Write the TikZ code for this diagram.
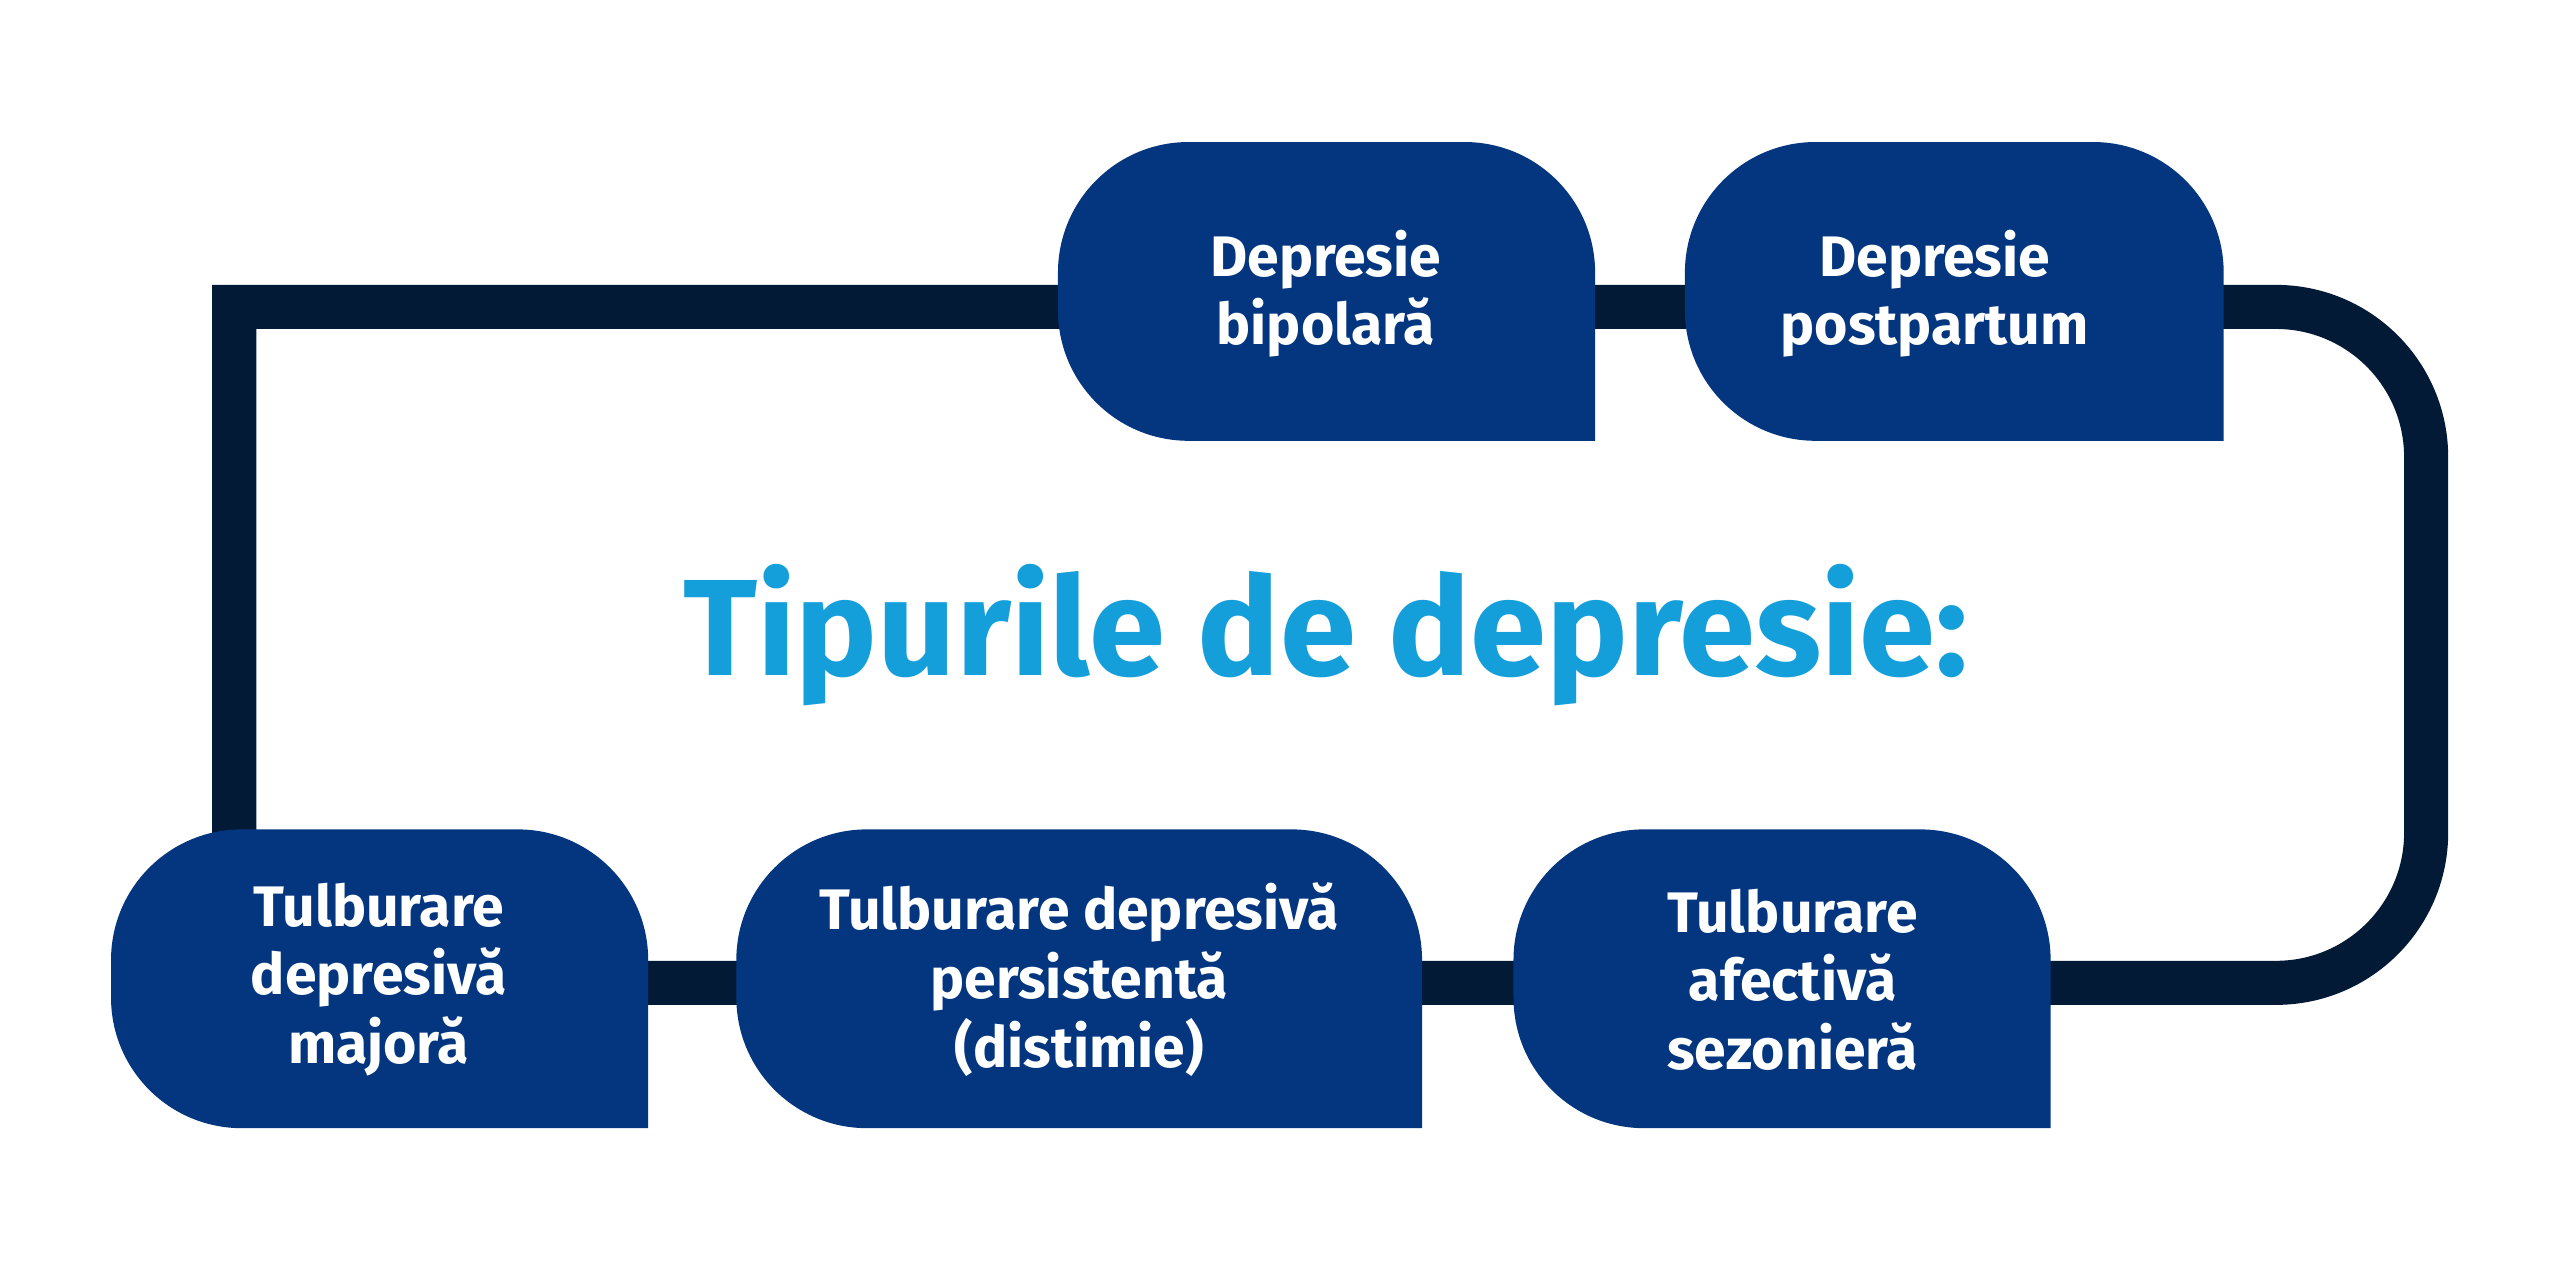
\documentclass[tikz,border=0pt]{standalone}
\usepackage{fontspec}
\setmainfont{Fira Sans}
\definecolor{boxblue}{HTML}{04367F}
\definecolor{loopdark}{HTML}{031A36}
\definecolor{titleblue}{HTML}{149FDB}
\newcommand{\mybox}[4]{% x1 ytop x2 ybot (y up)
  \fill[boxblue] (#3,#4) -- ({#1+80},#4) arc[start angle=270,end angle=180,radius=80]
   -- (#1,{#2-80}) arc[start angle=180,end angle=90,radius=80]
   -- ({#3-80},#2) arc[start angle=90,end angle=0,radius=80] -- cycle;}
\begin{document}
\begin{tikzpicture}[x=1pt,y=1pt,
  lbl/.style={text=white,font=\fontsize{35}{42}\selectfont\bfseries,align=center}]
\useasboundingbox (0,0) rectangle (1568,779);
\fill[white] (0,0) rectangle (1568,779);
\coordinate (la) at (143.5,177);
\coordinate (lb) at (143.5,591);
\draw[loopdark,line width=27] (la) -- (lb) -- (1394,591) arc[start angle=90,end angle=0,radius=92]
  -- (1486,269) arc[start angle=0,end angle=-90,radius=92] -- (la);
\mybox{648}{692}{977}{509}
\mybox{1032}{692}{1362}{509}
\mybox{68}{271}{397}{88}
\mybox{451}{271}{871}{88}
\mybox{927}{271}{1256}{88}
\node[lbl] (b1) at (812,599) {Depresie\\bipolară};
\node[lbl] (b2) at (1185,599) {Depresie\\postpartum};
\node[lbl] (b3) at (232,179) {Tulburare\\depresivă\\majoră};
\node[lbl] (b4) at (661,179) {Tulburare depresivă\\persistentă\\(distimie)};
\node[lbl] (b5) at (1098,179) {Tulburare\\afectivă\\sezonieră};
\node[text=titleblue,font=\fontsize{84}{90}\selectfont\bfseries] (t) at (812,390) {Tipurile de depresie:};
\end{tikzpicture}
\end{document}
